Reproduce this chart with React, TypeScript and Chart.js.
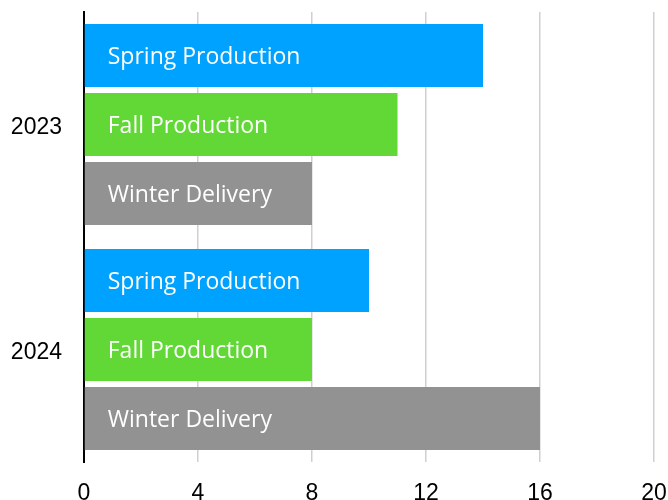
import React, { useEffect, useRef } from "react";
import { Chart, registerables } from "chart.js";

Chart.register(...registerables);

const categories = ["2023", "2024"];
const seriesNames = ["Spring Production", "Fall Production", "Winter Delivery"];
const springValues = [14, 10];
const fallValues = [11, 8];
const winterValues = [8, 16];
const seriesColors = ["#00A2FF", "#61D836", "#929292"];
const xMin = 0;
const xMax = 20;
const xStep = 4;

const barLabelPlugin = {
  id: "barLabels",
  afterDatasetsDraw(chart: any) {
    const ctx = chart.ctx;
    ctx.save();
    ctx.fillStyle = "#ffffff";
    ctx.font = '23px "Open Sans", sans-serif';
    ctx.textAlign = "left";
    ctx.textBaseline = "middle";
    chart.data.datasets.forEach((ds: any, i: number) => {
      const meta = chart.getDatasetMeta(i);
      meta.data.forEach((bar: any) => {
        ctx.fillText(ds.label, bar.base + 23, bar.y + 2);
      });
    });
    ctx.restore();
  },
};

export default function App() {
  const ref = useRef<HTMLCanvasElement | null>(null);
  useEffect(() => {
    document.body.style.margin = "0";
    const canvas = ref.current!;
    const chart = new Chart(canvas, {
      type: "bar",
      data: {
        labels: categories,
        datasets: [
          { label: seriesNames[0], data: springValues, backgroundColor: seriesColors[0] },
          { label: seriesNames[1], data: fallValues, backgroundColor: seriesColors[1] },
          { label: seriesNames[2], data: winterValues, backgroundColor: seriesColors[2] },
        ],
      },
      options: {
        indexAxis: "y",
        responsive: false,
        animation: false,
        maintainAspectRatio: false,
        layout: { padding: { top: 12, right: 14, left: 0, bottom: 0 } },
        datasets: { bar: { categoryPercentage: 0.92, barPercentage: 0.913 } },
        plugins: { legend: { display: false }, tooltip: { enabled: false } },
        scales: {
          x: {
            min: xMin,
            max: xMax,
            ticks: {
              stepSize: xStep,
              color: "#000",
              font: { family: '"Liberation Sans", Arial, sans-serif', size: 23 },
              padding: 18,
            },
            grid: { color: "#D0D0D0", lineWidth: 1.5, drawTicks: false },
            border: { display: false },
            afterFit(scale: any) {
              scale.height = 38;
              scale.paddingLeft = 0;
              scale.paddingRight = 0;
            },
          },
          y: {
            ticks: {
              color: "#000",
              font: { family: '"Liberation Sans", Arial, sans-serif', size: 23 },
              padding: 22,
              labelOffset: 3,
            },
            grid: { display: false, drawTicks: false },
            border: { display: true, color: "#000", width: 2 },
            afterFit(scale: any) {
              scale.width = 84;
              scale.paddingTop = 0;
              scale.paddingBottom = 0;
            },
          },
        },
      },
      plugins: [barLabelPlugin],
    });
    return () => chart.destroy();
  }, []);
  return <canvas ref={ref} width={668} height={500} style={{ display: "block" }} />;
}
